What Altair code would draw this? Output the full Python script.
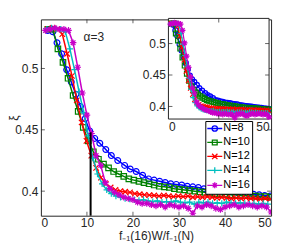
import altair as alt
import pandas as pd

FONT = "Liberation Sans"
INK = "#262626"

# ---------------- data ----------------
series_names = ["N=8", "N=10", "N=12", "N=14", "N=16"]
series_colors = ["#0000ff", "#008000", "#ff0000", "#00bfbf", "#c800c8"]

x8 = [1.5, 2.6, 3.5, 4.5, 5.6, 6.6, 7.6, 8.6, 9.6, 10.6, 11.7, 12.8, 14.1, 15.3, 16.7,
      18.2, 19.4, 20.7, 22.1, 23.4, 24.6, 25.8, 27.0, 28.2, 29.4, 30.6, 31.8, 33.0, 34.2,
      35.4, 36.6, 37.8, 39.0, 40.2, 41.4, 42.6, 43.8, 45.0, 46.2, 47.4, 48.6, 49.8]
y8 = [0.531, 0.530, 0.521, 0.512, 0.499, 0.489, 0.479, 0.469, 0.459, 0.449, 0.443, 0.439,
      0.434, 0.429, 0.425, 0.421, 0.418, 0.416, 0.413, 0.410, 0.409, 0.408, 0.407, 0.406,
      0.4055, 0.405, 0.404, 0.4035, 0.403, 0.402, 0.4015, 0.401, 0.4005, 0.400, 0.3995,
      0.399, 0.3985, 0.398, 0.3975, 0.397, 0.3965, 0.396]

x10 = [1.5, 2.6, 3.7, 4.8, 5.9, 7.0, 8.1, 9.2, 10.3, 11.4, 12.5, 13.6, 14.7, 15.8, 16.9,
       18.0, 19.1, 20.2, 21.3, 22.4, 23.5, 24.6, 25.7, 26.8, 27.9, 29.0, 30.1, 31.2, 32.3,
       33.4, 34.5, 35.6, 36.7, 37.8, 38.9, 40.0, 41.1, 42.2, 43.3, 44.4, 45.5, 46.6, 47.7,
       48.8, 49.9]
y10 = [0.532, 0.532, 0.516, 0.505, 0.492, 0.478, 0.465, 0.452, 0.441, 0.432, 0.426, 0.422,
       0.419, 0.416, 0.414, 0.412, 0.410, 0.409, 0.408, 0.407, 0.406, 0.405, 0.404, 0.4035,
       0.403, 0.402, 0.4015, 0.401, 0.4005, 0.400, 0.3995, 0.399, 0.3985, 0.398, 0.398,
       0.3975, 0.397, 0.397, 0.3965, 0.3965, 0.396, 0.396, 0.3955, 0.3955, 0.395]

x12 = [1.5, 2.55, 3.6, 4.65, 5.7, 6.75, 7.8, 8.85, 9.9, 10.95, 12.0, 13.05, 14.1, 15.15,
       16.2, 17.25, 18.3, 19.35, 20.4, 21.45, 22.5, 23.55, 24.6, 25.65, 26.7, 27.75, 28.8,
       29.85, 30.9, 31.95, 33.0, 34.05, 35.1, 36.15, 37.2, 38.25, 39.3, 40.35, 41.4, 42.45,
       43.5, 44.55, 45.6, 46.65, 47.7, 48.75, 49.8]
y12 = [0.532, 0.533, 0.532, 0.528, 0.512, 0.494, 0.474, 0.456, 0.441, 0.429, 0.419, 0.411,
       0.406, 0.403, 0.401, 0.400, 0.3995, 0.399, 0.398, 0.3975, 0.397, 0.3968, 0.3965,
       0.396, 0.3965, 0.396, 0.3955, 0.396, 0.3955, 0.396, 0.395, 0.3955, 0.395, 0.3955,
       0.395, 0.3945, 0.395, 0.3945, 0.394, 0.3945, 0.394, 0.3945, 0.394, 0.394, 0.3935,
       0.394, 0.3935]

x14 = [1.3, 2.3, 3.3, 4.3, 5.3, 6.3, 7.3, 8.3, 9.3, 10.3, 11.3, 12.3, 13.3, 14.3, 15.3,
       16.3, 17.3, 18.3, 19.3, 20.3, 21.3, 22.3, 23.3, 24.3, 25.3, 26.3, 27.3, 28.3, 29.3,
       30.3, 31.3, 32.3, 33.3, 34.3, 35.3, 36.3, 37.3, 38.3, 39.3, 40.3, 41.3, 42.3, 43.3,
       44.3, 45.3, 46.3, 47.3, 48.3, 49.3]
y14 = [0.532, 0.533, 0.532, 0.532, 0.530, 0.516, 0.499, 0.481, 0.464, 0.445, 0.427, 0.414,
       0.406, 0.401, 0.398, 0.396, 0.395, 0.394, 0.3935, 0.393, 0.3925, 0.393, 0.392,
       0.3915, 0.392, 0.391, 0.3915, 0.391, 0.392, 0.391, 0.3905, 0.391, 0.3895, 0.391,
       0.3905, 0.391, 0.390, 0.3905, 0.390, 0.391, 0.3905, 0.390, 0.3905, 0.390, 0.3895,
       0.390, 0.3895, 0.390, 0.3895]

x16 = [1, 2, 3, 4, 5, 6, 7, 8, 9, 10, 11, 12, 13, 14, 15, 16, 17, 18, 19, 20, 21, 22, 23,
       24, 25, 26, 27, 28, 29, 30, 31, 32, 33, 34, 35, 36, 37, 38, 39, 40, 41, 42, 43, 44,
       45, 46, 47, 48, 49, 50]
y16 = [0.531, 0.532, 0.533, 0.532, 0.532, 0.531, 0.521, 0.501, 0.480, 0.462, 0.447, 0.429,
       0.421, 0.407, 0.402, 0.399, 0.397, 0.395, 0.394, 0.393, 0.391, 0.390, 0.390, 0.389,
       0.388, 0.389, 0.387, 0.389, 0.388, 0.387, 0.388, 0.386, 0.382, 0.388, 0.387, 0.389,
       0.388, 0.386, 0.385, 0.387, 0.388, 0.389, 0.387, 0.388, 0.389, 0.388, 0.387, 0.388,
       0.387, 0.383]

series_x = [x8, x10, x12, x14, x16]
series_y = [y8, y10, y12, y14, y16]

x_ticks = [0, 10, 20, 30, 40, 50]
y_ticks = [0.4, 0.45, 0.5]
inset_x_ticks = [0, 25, 50]
inset_y_ticks = [0.4, 0.45, 0.5]

annot_text = ["α=3"]
annot_x = [11.5]
annot_y = [0.526]

vline_x = [10.8]
vline_y0 = [0.38]
vline_y1 = [0.448]

# ---------------- styles ----------------
marker_shapes = [
    "circle",
    "square",
    "M-1,-1L1,1M-1,1L1,-1",
    "M-1,0L1,0M0,-1L0,1",
    "M-1,0L1,0M0,-1L0,1M-0.7,-0.7L0.7,0.7M-0.7,0.7L0.7,-0.7",
]
marker_sizes = [34, 30, 30, 40, 44]
legend_shapes = [
    "M-2.5,0L2.5,0M-0.9,0A0.9,0.9 0 1,0 0.9,0A0.9,0.9 0 1,0 -0.9,0",
    "M-2.5,0L2.5,0M-0.8,-0.8L0.8,-0.8L0.8,0.8L-0.8,0.8Z",
    "M-2.5,0L2.5,0M-0.9,-0.9L0.9,0.9M-0.9,0.9L0.9,-0.9",
    "M-2.5,0L2.5,0M0,-1L0,1",
    "M-2.5,0L2.5,0M0,-1L0,1M-0.7,-0.7L0.7,0.7M-0.7,0.7L0.7,-0.7",
]

X_DOM = [0, 50]
Y_DOM = [0.38, 0.54]
W, H = 231, 197

axis_common = dict(grid=False, domain=False, tickSize=0, labelFont=FONT, labelFontSize=12,
                   labelColor=INK, titleFont=FONT, titleFontSize=12, titleColor=INK,
                   titleFontWeight="normal")
mx_axis = alt.Axis(values=x_ticks, format="d", title="f₋₁(16)W/f₋₁(N)", labelPadding=2,
                   titlePadding=2, **axis_common)
my_axis = alt.Axis(values=y_ticks, format=".2~f", title="ξ", labelPadding=3,
                   titleX=-27, titleY=H / 2, titleAngle=270, titleAlign="center",
                   titleBaseline="middle", **axis_common)
mx_scale = alt.Scale(domain=X_DOM, nice=False, zero=False)
my_scale = alt.Scale(domain=Y_DOM, nice=False, zero=False)


def mx(f="x"):
    return alt.X(f"{f}:Q", scale=mx_scale, axis=mx_axis)


def my(f="y"):
    return alt.Y(f"{f}:Q", scale=my_scale, axis=my_axis)


ix_axis = alt.Axis(values=inset_x_ticks, format="d", title="", orient="bottom", offset=-97,
                   labelPadding=3, labelExpr="datum.value == 25 ? '' : datum.label",
                   **axis_common)
iy_axis = alt.Axis(values=inset_y_ticks, format=".2~f", title="", orient="left",
                   offset=-128, labelPadding=3, **axis_common)
ix_scale = alt.Scale(domain=X_DOM, range=[128, 229], nice=False, zero=False)
iy_scale = alt.Scale(domain=Y_DOM, range=[100, -1], nice=False, zero=False)


def ix(f="x"):
    return alt.X(f"{f}:Q", scale=ix_scale, axis=ix_axis)


def iy(f="y"):
    return alt.Y(f"{f}:Q", scale=iy_scale, axis=iy_axis)


# ---------------- main plot ----------------
main_layers = []
inset_layers = []
frames = []
for name, xs, ys in zip(series_names, series_x, series_y):
    frames.append(pd.DataFrame({"x": xs, "y": ys, "N": name}))

for i, df in enumerate(frames):
    c = series_colors[i]
    main_layers.append(alt.Chart(df).mark_line(color=c, strokeWidth=1.5, clip=True)
                       .encode(x=mx(), y=my()))
    main_layers.append(alt.Chart(df).mark_point(color=c, shape=marker_shapes[i],
                                                size=marker_sizes[i], filled=False,
                                                strokeWidth=1.2, opacity=1, clip=True)
                       .encode(x=mx(), y=my()))

vline_df = pd.DataFrame({"x": vline_x, "y0": vline_y0, "y1": vline_y1})
main_layers.append(alt.Chart(vline_df).mark_rule(color="black", strokeWidth=2)
                   .encode(x=mx(), y=my("y0"), y2="y1:Q"))

annot_df = pd.DataFrame({"x": annot_x, "y": annot_y, "t": annot_text})
main_layers.append(alt.Chart(annot_df).mark_text(font=FONT, fontSize=12, color=INK,
                                                 align="center", baseline="middle")
                   .encode(x=mx(), y=my(), text="t:N"))

# inward ticks of main axes
bt = pd.DataFrame({"x": x_ticks[1:-1], "y": [Y_DOM[0]] * 4})
tt = pd.DataFrame({"x": x_ticks[1:-1], "y": [Y_DOM[1]] * 4})
lt = pd.DataFrame({"x": [X_DOM[0]] * 3, "y": y_ticks})
rt = pd.DataFrame({"x": [X_DOM[1]] * 3, "y": y_ticks})
main_layers.append(alt.Chart(bt).mark_tick(orient="vertical", size=4, thickness=1,
                                           yOffset=-2, color=INK).encode(x=mx(), y=my()))
main_layers.append(alt.Chart(tt).mark_tick(orient="vertical", size=4, thickness=1,
                                           yOffset=2, color=INK).encode(x=mx(), y=my()))
main_layers.append(alt.Chart(lt).mark_tick(orient="horizontal", size=4, thickness=1,
                                           xOffset=2, color=INK).encode(x=mx(), y=my()))
main_layers.append(alt.Chart(rt).mark_tick(orient="horizontal", size=4, thickness=1,
                                           xOffset=-2, color=INK).encode(x=mx(), y=my()))

# legend-only layer
leg_df = pd.DataFrame({"N": series_names, "x": [f["x"].iloc[0] for f in frames],
                       "y": [f["y"].iloc[0] for f in frames]})
leg = alt.Legend(title=None, orient="none", legendX=165, legendY=102, strokeColor="black",
                 fillColor="white", padding=2, symbolSize=36, symbolStrokeWidth=1.3,
                 symbolOpacity=1, labelFont=FONT, labelFontSize=11, labelColor="black",
                 labelOffset=3, symbolOffset=2, rowPadding=2, cornerRadius=0)
main_layers.append(
    alt.Chart(leg_df).mark_point(opacity=0, filled=False, size=36).encode(
        x=mx(), y=my(),
        color=alt.Color("N:N", scale=alt.Scale(domain=series_names, range=series_colors),
                        legend=leg, sort=series_names),
        shape=alt.Shape("N:N", scale=alt.Scale(domain=series_names, range=legend_shapes),
                        legend=leg, sort=series_names),
    )
)

main = alt.layer(*main_layers)

# ---------------- inset ----------------
box_df = pd.DataFrame({"x0": [X_DOM[0]], "x1": [X_DOM[1]], "y0": [Y_DOM[0]], "y1": [Y_DOM[1]]})
inset_layers.append(alt.Chart(box_df).mark_rect(fill="white", stroke=INK, strokeWidth=1)
                    .encode(x=ix("x0"), x2="x1:Q", y=iy("y0"), y2="y1:Q"))
for i, df in enumerate(frames):
    c = series_colors[i]
    inset_layers.append(alt.Chart(df).mark_line(color=c, strokeWidth=1.2)
                        .encode(x=ix(), y=iy()))
    inset_layers.append(alt.Chart(df).mark_point(color=c, shape=marker_shapes[i],
                                                 size=marker_sizes[i] * 0.8, filled=False,
                                                 strokeWidth=1.2, opacity=1)
                        .encode(x=ix(), y=iy()))
ibt = pd.DataFrame({"x": inset_x_ticks[1:-1], "y": [Y_DOM[0]]})
itt = pd.DataFrame({"x": inset_x_ticks[1:-1], "y": [Y_DOM[1]]})
ilt = pd.DataFrame({"x": [X_DOM[0]] * 3, "y": inset_y_ticks})
irt = pd.DataFrame({"x": [X_DOM[1]] * 3, "y": inset_y_ticks})
inset_layers.append(alt.Chart(ibt).mark_tick(orient="vertical", size=4, thickness=1,
                                             yOffset=-2, color=INK).encode(x=ix(), y=iy()))
inset_layers.append(alt.Chart(itt).mark_tick(orient="vertical", size=4, thickness=1,
                                             yOffset=2, color=INK).encode(x=ix(), y=iy()))
inset_layers.append(alt.Chart(ilt).mark_tick(orient="horizontal", size=4, thickness=1,
                                             xOffset=2, color=INK).encode(x=ix(), y=iy()))
inset_layers.append(alt.Chart(irt).mark_tick(orient="horizontal", size=4, thickness=1,
                                             xOffset=-2, color=INK).encode(x=ix(), y=iy()))
inset = alt.layer(*inset_layers)

chart = (
    alt.layer(main, inset)
    .resolve_scale(x="independent", y="independent")
    .properties(width=W, height=H, autosize=alt.AutoSizeParams(type="none"),
                padding={"left": 33, "top": 11, "right": 20, "bottom": 34},
                background="white")
    .configure_view(stroke=INK, strokeWidth=1)
)

chart.save("out.html", embed_options={"renderer": "svg", "actions": False})
